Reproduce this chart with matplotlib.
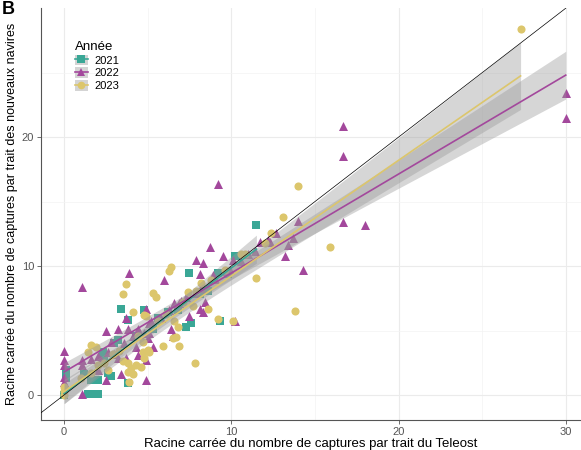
import numpy as np
import matplotlib
matplotlib.use("Agg")
import matplotlib.pyplot as plt
from matplotlib.lines import Line2D
from matplotlib.patches import Patch
from matplotlib.legend_handler import HandlerTuple

plt.rcParams['font.family'] = ['Liberation Sans', 'DejaVu Sans']

# square-root catches per tow: Teleost (x) vs new vessels (y)
x_2021 = [0.0, 0.0, 0.0, 0.0, 0.1, 0.1, 1.4, 1.8, 2.0, 1.6, 2.0, 2.6, 2.8, 3.8, 2.3,
          3.0, 3.2, 3.8, 3.4, 4.8, 5.6, 7.3, 7.6, 9.3, 7.5, 9.2, 10.3, 10.2, 11.5,
          5.3, 6.2, 8.6, 1.2, 2.4, 4.3, 6.8, 8.1, 9.8]
y_2021 = [0.0, 0.0, 0.0, 0.0, 1.9, 1.3, 0.1, 0.1, 0.1, 1.2, 1.2, 1.7, 1.5, 0.9, 3.3,
          4.0, 4.3, 5.8, 6.7, 6.6, 6.0, 5.3, 5.6, 5.7, 9.5, 9.5, 10.8, 10.8, 13.2,
          5.1, 6.4, 8.1, 1.6, 2.9, 4.6, 6.6, 7.8, 9.4]

x_2022 = [30.0, 30.0, 16.7, 16.7, 9.2, 16.7, 18.0, 14.0, 12.7, 11.7, 13.7, 13.4, 13.2,
          14.3, 10.1, 10.2, 8.7, 7.9, 8.3, 9.5, 6.0, 8.1, 8.9, 8.2, 6.6, 8.4, 8.1, 8.3,
          7.5, 4.9, 5.1, 6.4, 5.0, 5.1, 6.5, 1.1, 3.9, 3.7, 2.5, 3.2, 3.8, 4.4, 2.8, 4.1,
          4.8, 4.3, 5.3, 0.0, 0.0, 0.0, 1.1, 1.1, 1.6, 2.0, 2.6, 3.2, 3.7, 4.4, 4.9, 2.0,
          2.5, 4.9, 3.4, 1.1, 0.0, 0.0, 11.0, 12.2, 9.9, 7.0,
          2.2, 3.0, 3.6, 4.5, 5.2, 5.8, 6.3, 6.9, 7.3, 7.8, 9.0, 9.7, 10.6, 11.4, 12.3]
y_2022 = [23.4, 21.5, 20.9, 18.5, 16.4, 13.4, 13.2, 13.5, 12.6, 11.9, 12.2, 11.6, 10.8,
          9.7, 10.5, 5.7, 11.5, 10.5, 10.2, 10.8, 8.9, 9.4, 9.3, 8.3, 7.1, 7.2, 6.7, 6.4,
          6.1, 6.7, 5.6, 5.1, 4.4, 4.8, 4.6, 8.4, 9.5, 6.0, 5.0, 5.1, 5.1, 5.1, 4.1, 4.6,
          4.8, 3.7, 3.7, 3.4, 2.7, 2.3, 2.7, 2.3, 2.8, 3.0, 3.3, 2.9, 2.9, 3.1, 2.7, 1.9,
          1.2, 1.2, 1.6, 0.1, 1.4, 1.0, 10.9, 12.0, 9.7, 7.3,
          2.7, 3.2, 4.0, 4.7, 5.7, 6.0, 6.6, 7.1, 7.6, 7.9, 9.0, 9.6, 10.4, 11.2, 11.9]

x_2023 = [27.3, 14.0, 13.1, 15.9, 11.5, 13.8, 10.1, 6.4, 6.3, 5.3, 5.5, 7.4, 8.2, 7.7,
          8.6, 6.6, 6.8, 4.9, 9.2, 6.5, 5.9, 6.9, 7.8, 3.7, 3.5, 4.1, 4.8, 1.6, 1.9, 1.4,
          4.7, 5.0, 3.5, 3.8, 4.3, 4.6, 4.0, 3.8, 4.1, 2.6, 2.0, 3.9, 4.7, 5.1, 4.8, 6.7,
          0.0, 0.0, 0.0, 10.8, 12.0,
          1.0, 1.6, 2.4, 2.9, 3.3, 4.4, 5.6, 6.1, 7.1, 7.9, 8.8, 9.6, 10.6, 12.4]
y_2023 = [28.4, 16.2, 13.8, 11.5, 9.1, 6.5, 5.7, 9.9, 9.6, 7.9, 7.6, 8.0, 8.7, 6.9,
          6.7, 5.7, 5.3, 6.1, 5.9, 4.4, 3.8, 3.8, 2.5, 8.6, 7.8, 6.4, 6.2, 3.9, 3.7, 3.3,
          4.1, 3.5, 2.6, 2.5, 2.3, 2.2, 2.1, 1.8, 1.6, 1.9, 2.3, 1.0, 3.3, 3.3, 2.9, 4.5,
          0.0, 0.3, 0.6, 10.9, 11.8,
          1.3, 1.7, 2.5, 3.2, 3.4, 4.6, 5.7, 6.3, 7.2, 8.1, 8.9, 9.7, 10.9, 12.6]

years = ['2021', '2022', '2023']
colors = ['#3aa796', '#a3489c', '#dcc66c']
markers = ['s', '^', 'o']
sizes = [30, 42, 34]


def t975(df):
    # Cornish-Fisher approximation of the 97.5% Student t quantile
    z = 1.959964
    return (z + (z**3 + z) / (4 * df) + (5 * z**5 + 16 * z**3 + 3 * z) / (96 * df**2))


def lm_ribbon(x, y, n=80):
    x = np.asarray(x, float)
    y = np.asarray(y, float)
    b1, b0 = np.polyfit(x, y, 1)
    resid = y - (b0 + b1 * x)
    df = len(x) - 2
    s = np.sqrt(np.sum(resid**2) / df)
    xs = np.linspace(x.min(), x.max(), n)
    se = s * np.sqrt(1 / len(x) + (xs - x.mean())**2 / np.sum((x - x.mean())**2))
    fit = b0 + b1 * xs
    t = t975(df)
    return xs, fit, fit - t * se, fit + t * se


fig = plt.figure(figsize=(5.81, 4.5), dpi=100)
ax = fig.add_axes([0.0706, 0.0667, 0.929, 0.915])

data = [(x_2021, y_2021), (x_2022, y_2022), (x_2023, y_2023)]
for (xv, yv), c, m, s in zip(data, colors, markers, sizes):
    ax.scatter(xv, yv, color=c, marker=m, s=s, linewidths=0, zorder=3)

for (xv, yv), c in zip(data, colors):
    xs, fit, lo, hi = lm_ribbon(xv, yv)
    ax.fill_between(xs, lo, hi, color='#999999', alpha=0.4, linewidth=0, zorder=4)
    ax.plot(xs, fit, color=c, lw=1.2, zorder=5)

ax.axline((0, 0), slope=1, color='black', lw=0.5, zorder=6)

ax.set_xlim(-1.38, 30.9)
ax.set_ylim(-1.94, 30.0)
ax.set_xticks([0, 10, 20, 30])
ax.set_yticks([0, 10, 20])
ax.set_xticks([5, 15, 25], minor=True)
ax.set_yticks([5, 15, 25], minor=True)
ax.grid(which='major', color='#ebebeb', lw=0.8, zorder=0)
ax.grid(which='minor', color='#f3f3f3', lw=0.5, zorder=0)
ax.set_axisbelow(True)
for side in ['top', 'right']:
    ax.spines[side].set_visible(False)
for side in ['left', 'bottom']:
    ax.spines[side].set_color('#555555')
    ax.spines[side].set_linewidth(0.8)
ax.tick_params(which='major', length=3, color='#555555', width=0.6,
               labelsize=8, labelcolor='#555555', pad=2)
ax.tick_params(which='minor', length=0)

ax.set_xlabel('Racine carrée du nombre de captures par trait du Teleost',
              fontsize=9.5, labelpad=1)
ax.set_ylabel('Racine carrée du nombre de captures par trait des nouveaux navires',
              fontsize=9, labelpad=3)

handles = [(Patch(facecolor='#d4d4d4', edgecolor='none'),
            Line2D([0], [0], color=c, lw=1.2, marker=m, markersize=5.5,
                   markeredgewidth=0))
           for c, m in zip(colors, markers)]
leg = ax.legend(handles, years, title='Année', loc='upper left',
                bbox_to_anchor=(0.045, 0.945), frameon=False, fontsize=8,
                title_fontsize=9.5, handlelength=1.1, handleheight=1.1,
                labelspacing=0.15, handletextpad=0.6,
                handler_map={tuple: HandlerTuple(ndivide=1, pad=0)})
leg._legend_box.align = 'left'

fig.text(0.003, 0.998, 'B', fontsize=13, fontweight='bold', va='top', ha='left')

fig.savefig('out.png', dpi=100)
